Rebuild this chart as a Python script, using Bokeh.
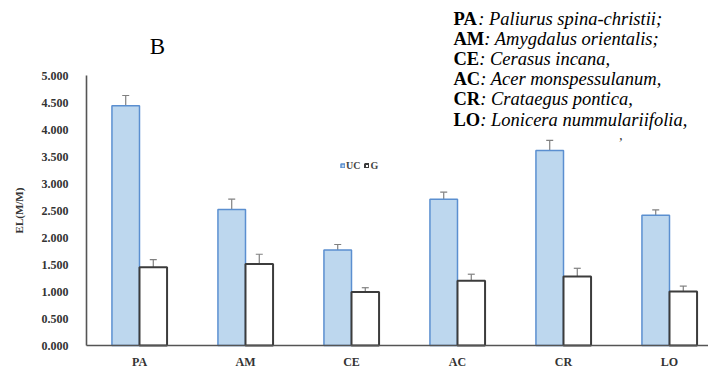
from bokeh.plotting import figure
from bokeh.models import (ColumnDataSource, Whisker, TeeHead, FixedTicker,
                          NumeralTickFormatter, Label, Legend, LegendItem, Range1d)
from bokeh.transform import dodge
from bokeh.embed import file_html
from bokeh.resources import INLINE

# Electrolyte leakage per species, UC and G groups, with error margins
species = ["PA", "AM", "CE", "AC", "CR", "LO"]
full_names = [
    "Paliurus spina-christii;",
    "Amygdalus orientalis;",
    "Cerasus incana,",
    "Acer monspessulanum,",
    "Crataegus pontica,",
    "Lonicera nummulariifolia,",
]
uc_values = [4.44, 2.52, 1.77, 2.71, 3.61, 2.41]
uc_errors = [0.19, 0.19, 0.10, 0.13, 0.19, 0.10]
g_values = [1.45, 1.51, 0.99, 1.20, 1.28, 1.00]
g_errors = [0.14, 0.18, 0.08, 0.12, 0.15, 0.10]
y_ticks = [0, 0.5, 1, 1.5, 2, 2.5, 3, 3.5, 4, 4.5, 5]

W, H = 708, 371
# plot area geometry (pixels): axes meet at (86, 345), y=5 sits at 75,
# one category slot is 106 px wide
AX_LEFT, AX_BOTTOM, AX_TOP = 86, 345, 75
SLOT = 106
YMAX = 5
PX_Y = (AX_BOTTOM - AX_TOP) / YMAX
X0 = -0.5

BAR_W = 0.26
SERIF = "Liberation Serif"

xs = list(range(len(species)))
src = ColumnDataSource(dict(
    x=xs,
    uc=uc_values, uc_hi=[v + e for v, e in zip(uc_values, uc_errors)],
    uc_lo=[v - e for v, e in zip(uc_values, uc_errors)],
    g=g_values, g_hi=[v + e for v, e in zip(g_values, g_errors)],
    g_lo=[v - e for v, e in zip(g_values, g_errors)],
))

# The frame fills the canvas so the key text above the axes is not clipped;
# the axes are pinned inside it with fixed_location.
x_range = Range1d(X0 - AX_LEFT / SLOT, X0 + (W - AX_LEFT) / SLOT)
y_range = Range1d(-(H - AX_BOTTOM) / PX_Y, AX_BOTTOM / PX_Y)
x_end = x_range.end

p = figure(width=W, height=H, x_range=x_range, y_range=y_range,
           output_backend="svg", toolbar_location=None,
           min_border=0)
p.outline_line_color = None
p.grid.visible = False
p.background_fill_color = "white"
p.border_fill_color = "white"

r_uc = p.vbar(x=dodge("x", -BAR_W / 2), top="uc", width=BAR_W, source=src,
              fill_color="#bdd7ee", line_color="#5b8fd0", line_width=1.5)
r_g = p.vbar(x=dodge("x", BAR_W / 2), top="g", width=BAR_W, source=src,
             fill_color="white", line_color="#3c3c3c", line_width=2)

for col, off in (("uc", -BAR_W / 2), ("g", BAR_W / 2)):
    w = Whisker(source=src, base=dodge("x", off), upper=col + "_hi", lower=col + "_lo",
                line_color="#808080", line_width=1.2,
                upper_head=TeeHead(size=7, line_color="#808080", line_width=1.2),
                lower_head=TeeHead(size=7, line_color="#808080", line_width=1.2))
    p.add_layout(w)

# axes
xaxis, yaxis = p.xaxis[0], p.yaxis[0]
xaxis.fixed_location = 0
xaxis.bounds = (X0, x_end)
yaxis.fixed_location = X0
yaxis.bounds = (0, YMAX)
for ax in (xaxis, yaxis):
    ax.axis_line_color = "#555555"
    ax.axis_line_width = 1.6
    ax.major_tick_line_color = None
    ax.minor_tick_line_color = None
    ax.major_label_text_font = SERIF
    ax.major_label_text_font_style = "bold"
    ax.major_label_text_color = "#333333"

yaxis.ticker = FixedTicker(ticks=y_ticks)
yaxis.formatter = NumeralTickFormatter(format="0.000")
yaxis.major_label_text_font_size = "12px"
yaxis.major_label_standoff = 12
yaxis.axis_label = "EL(M/M)"
yaxis.axis_label_text_font = SERIF
yaxis.axis_label_text_font_style = "bold"
yaxis.axis_label_text_font_size = "11px"
yaxis.axis_label_text_color = "#333333"
yaxis.axis_label_standoff = 14

xaxis.ticker = FixedTicker(ticks=xs)
xaxis.major_label_overrides = {i: s for i, s in zip(xs, species)}
xaxis.major_label_text_font_size = "12px"
xaxis.major_label_standoff = 3


def at(px, py):
    """canvas pixel -> frame screen units (origin bottom-left)"""
    return px, H - py


# legend
lgx, lgy = at(340, 171)
legend = Legend(items=[LegendItem(label="UC", renderers=[r_uc]),
                       LegendItem(label="G", renderers=[r_g])],
                orientation="horizontal", location=(lgx, lgy),
                glyph_width=5, glyph_height=5, label_height=9, label_width=10,
                label_text_font=SERIF, label_text_font_style="bold",
                label_text_font_size="10px", label_text_color="#444444",
                label_standoff=1, spacing=4, padding=0, margin=0,
                border_line_color=None, background_fill_alpha=0)
p.add_layout(legend)

# panel letter
bx, by = at(157, 46)
p.add_layout(Label(x=bx, y=by, x_units="screen", y_units="screen", text="B",
                   text_font=SERIF, text_font_size="23px", text_color="black",
                   text_align="center", text_baseline="middle"))

# species key in the upper right
BOLD_CAPS = {"A": 0.722, "C": 0.722, "E": 0.667, "L": 0.667,
             "M": 0.944, "O": 0.778, "P": 0.611, "R": 0.722}
KEY_SIZE = 18.5
for i, (abbr, name) in enumerate(zip(species, full_names)):
    lx, ly = at(453, 18 + i * 20.2)
    p.add_layout(Label(x=lx, y=ly, x_units="screen", y_units="screen", text=abbr,
                       text_font=SERIF, text_font_style="bold",
                       text_font_size=f"{KEY_SIZE}px", text_color="black",
                       text_baseline="middle"))
    wb = sum(BOLD_CAPS[c] for c in abbr) * KEY_SIZE
    p.add_layout(Label(x=lx + wb, y=ly, x_units="screen", y_units="screen",
                       text=": " + name, text_font=SERIF, text_font_style="italic",
                       text_font_size=f"{KEY_SIZE}px", text_color="black",
                       text_baseline="middle"))

mx, my = at(617, 143)
p.add_layout(Label(x=mx, y=my, x_units="screen", y_units="screen", text="\u2019",
                   text_font=SERIF, text_font_style="italic", text_font_size="14px",
                   text_color="#333333", text_baseline="middle"))

open("out.html", "w").write(file_html(p, INLINE))
